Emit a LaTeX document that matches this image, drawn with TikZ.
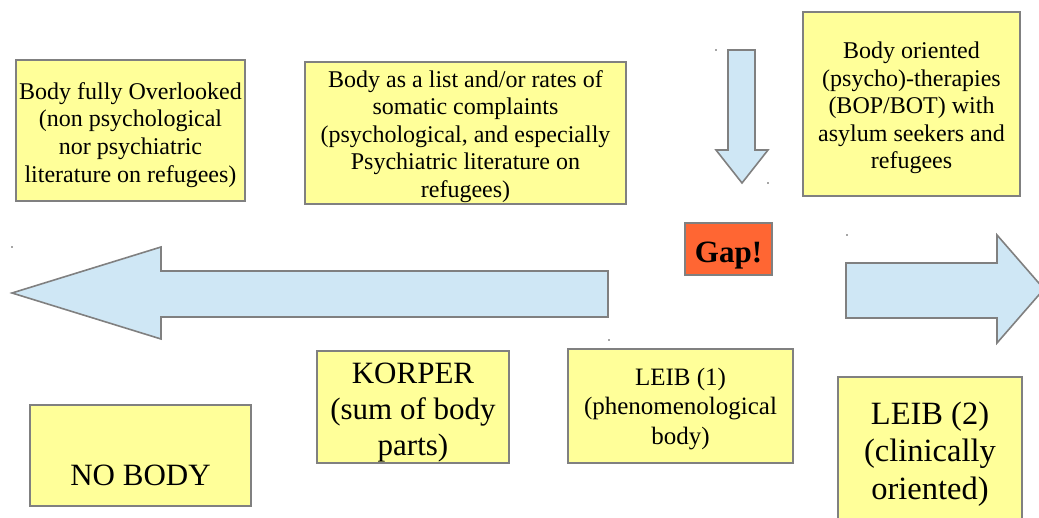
\documentclass[tikz,border=0pt]{standalone}
\usepackage{fontspec}
\setmainfont{Liberation Serif}

\definecolor{boxyellow}{HTML}{FFFF99}
\definecolor{boxgrey}{HTML}{808080}
\definecolor{arrowblue}{HTML}{CFE7F5}
\definecolor{gaporange}{HTML}{FF6633}

\newcommand{\padtop}[1]{\rule{0pt}{#1}}

\tikzset{
  notebox/.style={draw=boxgrey, line width=1.6, fill=boxyellow, align=center, inner sep=0pt},
  bigarrow/.style={draw=boxgrey, line width=1.6, fill=arrowblue, line join=miter},
  smalltext/.style={font=\fontsize{24}{27.6}\selectfont},
  handle/.style={fill=boxgrey!70}
}

\begin{document}
\begin{tikzpicture}[x=1pt, y=-1pt]

\useasboundingbox (0,0) rectangle (1039,518);
\clip (0,0) rectangle (1039,518);

% arrows
\draw[bigarrow] (12,293) -- (161,247) -- (161,271) -- (608,271) -- (608,317) -- (161,317) -- (161,339) -- cycle;
\draw[bigarrow] (846,263) -- (997,263) -- (997,235) -- (1044,289) -- (997,343) -- (997,318) -- (846,318) -- cycle;
\draw[bigarrow] (728,50) -- (755,50) -- (755,150) -- (768,150) -- (742,183) -- (716,150) -- (728,150) -- cycle;

% small handles
\foreach \hx/\hy in {716/50, 768/183, 12/247, 609/340, 847/235}
  \fill[handle] (\hx-1,\hy-1) rectangle (\hx+1,\hy+1);

% upper row
\node[notebox, smalltext, minimum width=229, minimum height=141] (overlooked) at (130.5,130.5)
  {\padtop{25.6pt}Body fully Overlooked\\(non psychological\\nor psychiatric\\literature on refugees)};
\node[notebox, smalltext, minimum width=321, minimum height=142] (somatic) at (465.5,133)
  {\padtop{23.6pt}Body as a list and/or rates of\\somatic complaints\\(psychological, and especially\\Psychiatric literature on\\refugees)};
\node[notebox, smalltext, minimum width=217, minimum height=184] (therapies) at (911.5,104)
  {\padtop{24.6pt}Body oriented\\(psycho)-therapies\\(BOP/BOT) with\\asylum seekers and\\refugees};

\node[draw=boxgrey, line width=1.6, fill=gaporange, inner sep=0pt, minimum width=87, minimum height=52,
  font=\fontsize{31}{36}\selectfont\bfseries] (gap) at (728.5,249) {\padtop{33pt}Gap!};

% lower row
\node[notebox, minimum width=221, minimum height=101, font=\fontsize{31}{36}\selectfont] (nobody) at (140.5,455.5)
  {\padtop{60pt}NO BODY};
\node[notebox, minimum width=192, minimum height=112, font=\fontsize{31}{36}\selectfont] (korper) at (413,407)
  {\padtop{31.4pt}KORPER\\(sum of body\\parts)};
\node[notebox, minimum width=225, minimum height=114, font=\fontsize{25}{29.5}\selectfont] (leibone) at (680.5,406)
  {\padtop{23.3pt}LEIB (1)\\(phenomenological\\body)};
\node[notebox, minimum width=184, minimum height=148, font=\fontsize{32.5}{37.5}\selectfont] (leibtwo) at (930,451)
  {\padtop{28.4pt}LEIB (2)\\(clinically\\oriented)};

\end{tikzpicture}
\end{document}
